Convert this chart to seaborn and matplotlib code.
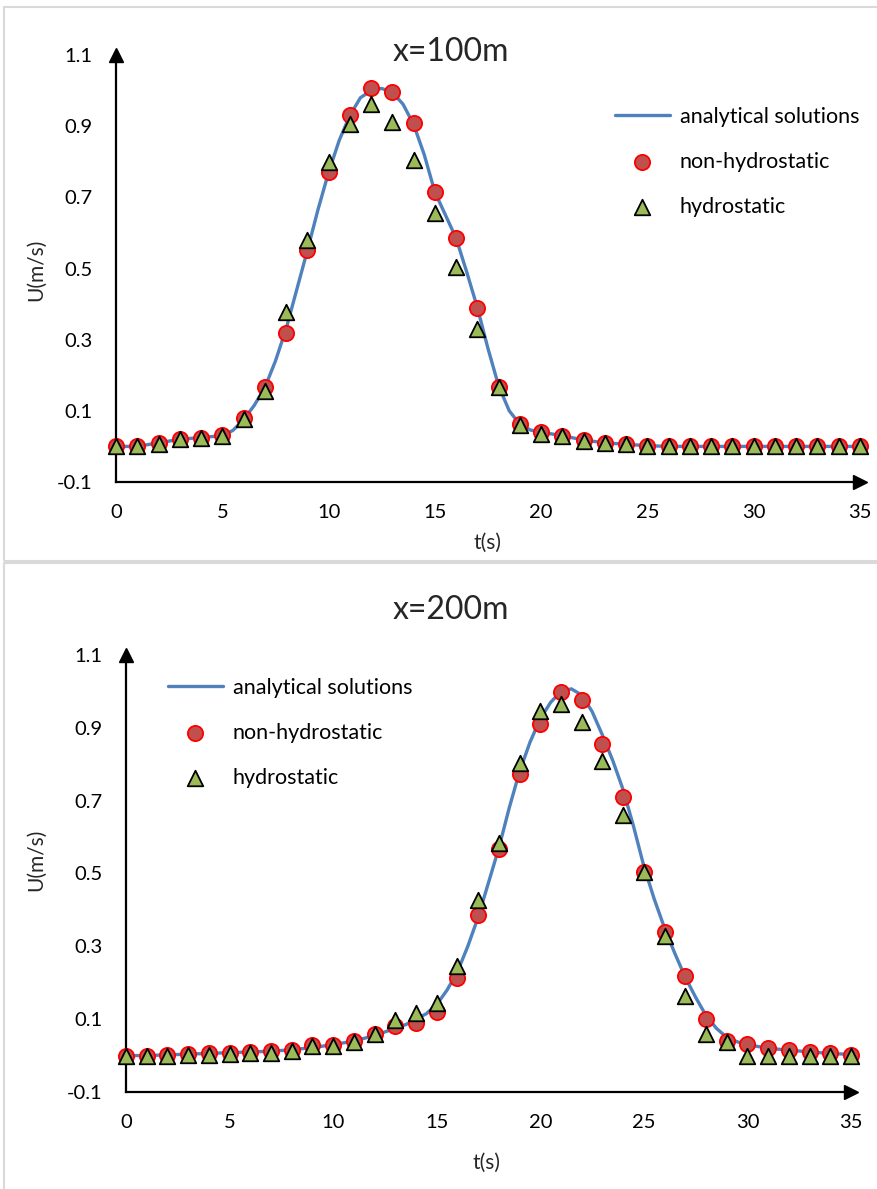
import numpy as np
import pandas as pd
import matplotlib
matplotlib.use("Agg")
import matplotlib.pyplot as plt
from matplotlib.patches import Rectangle
import seaborn as sns

# ---- data ----
t_points = list(range(0, 36))

# x = 100 m
nonhydro_100 = [0.0, 0.0, 0.01, 0.021, 0.025, 0.032, 0.08, 0.168, 0.32, 0.553,
                0.77, 0.93, 1.006, 0.995, 0.908, 0.714, 0.587, 0.39, 0.168, 0.062,
                0.04, 0.03, 0.017, 0.01, 0.007, 0.0, 0.0, 0.0, 0.0, 0.0,
                0.0, 0.0, 0.0, 0.0, 0.0, 0.0]
hydro_100 = [0.0, 0.0, 0.008, 0.02, 0.025, 0.03, 0.078, 0.155, 0.377, 0.58,
             0.8, 0.906, 0.963, 0.911, 0.806, 0.656, 0.503, 0.33, 0.167, 0.06,
             0.036, 0.03, 0.016, 0.01, 0.007, 0.0, 0.0, 0.0, 0.0, 0.0,
             0.0, 0.0, 0.0, 0.0, 0.0, 0.0]
t_analytic_100 = [0, 1, 2, 3, 4, 5, 5.5, 6, 6.5, 7, 7.5, 8, 8.5, 9, 9.5, 10, 10.5,
                  11, 11.5, 12, 12.5, 13, 13.5, 14, 14.5, 15, 15.5, 16, 16.5, 17,
                  17.5, 18, 18.5, 19, 19.5, 20, 21, 22, 23, 24, 25, 26, 30, 35]
u_analytic_100 = [0.0, 0.0, 0.01, 0.02, 0.025, 0.03, 0.045, 0.075, 0.115, 0.165,
                  0.24, 0.33, 0.44, 0.55, 0.665, 0.77, 0.86, 0.93, 0.98, 1.0,
                  1.006, 0.995, 0.962, 0.905, 0.82, 0.715, 0.65, 0.585, 0.49, 0.39,
                  0.275, 0.17, 0.1, 0.062, 0.046, 0.04, 0.03, 0.018, 0.01, 0.006,
                  0.002, 0.0, 0.0, 0.0]

# x = 200 m
nonhydro_200 = [0.0, 0.0, 0.002, 0.004, 0.006, 0.008, 0.01, 0.012, 0.015, 0.028,
                0.028, 0.04, 0.06, 0.08, 0.09, 0.12, 0.213, 0.386, 0.568, 0.774,
                0.911, 0.999, 0.977, 0.856, 0.711, 0.505, 0.34, 0.219, 0.1, 0.04,
                0.032, 0.021, 0.015, 0.01, 0.007, 0.002]
hydro_200 = [0.0, 0.0, 0.0, 0.001, 0.002, 0.004, 0.007, 0.008, 0.013, 0.026,
             0.026, 0.037, 0.059, 0.097, 0.117, 0.145, 0.246, 0.428, 0.584, 0.804,
             0.947, 0.966, 0.916, 0.81, 0.661, 0.505, 0.329, 0.164, 0.06, 0.038,
             0.0, 0.0, 0.0, 0.0, 0.0, 0.0]
t_analytic_200 = [0, 1, 2, 3, 4, 5, 6, 7, 8, 9, 10, 11, 12, 13, 13.5, 14, 14.5, 15,
                  15.5, 16, 16.5, 17, 17.5, 18, 18.5, 19, 19.5, 20, 20.5, 21, 21.5,
                  22, 22.5, 23, 23.5, 24, 24.5, 25, 25.5, 26, 26.5, 27, 27.5, 28,
                  28.5, 29, 29.5, 30, 31, 32, 33, 34, 35]
u_analytic_200 = [0.0, 0.0, 0.002, 0.004, 0.006, 0.008, 0.01, 0.012, 0.016, 0.022,
                  0.03, 0.04, 0.055, 0.075, 0.085, 0.1, 0.115, 0.14, 0.18, 0.23,
                  0.3, 0.38, 0.475, 0.57, 0.68, 0.78, 0.86, 0.925, 0.97, 1.0,
                  1.007, 0.99, 0.945, 0.88, 0.81, 0.73, 0.63, 0.52, 0.43, 0.35,
                  0.28, 0.215, 0.16, 0.11, 0.075, 0.05, 0.038, 0.03, 0.02, 0.015,
                  0.01, 0.006, 0.003]

y_ticks = [-0.1, 0.1, 0.3, 0.5, 0.7, 0.9, 1.1]
x_ticks = [0, 5, 10, 15, 20, 25, 30, 35]

LINE_C = "#4f81bd"
RED_FILL = "#c0504d"
RED_EDGE = "#ff0000"
GREEN_FILL = "#9bbb59"

sns.set_style("white")
plt.rcParams["font.family"] = ["Lato", "DejaVu Sans"]

W, H = 878, 1189
fig = plt.figure(figsize=(W / 100, H / 100), dpi=100)

# gray panel borders
fig.patches.append(Rectangle((4 / W, 1 - 561 / H), (W + 10) / W, 554 / H,
                             transform=fig.transFigure, fill=False,
                             edgecolor="#d9d9d9", linewidth=1.5))
fig.patches.append(Rectangle((4 / W, -0.05), (W + 10) / W, 0.05 + 626 / H,
                             transform=fig.transFigure, fill=False,
                             edgecolor="#d9d9d9", linewidth=1.5))


def make_panel(rect, t_an, u_an, nonhydro, hydro, title, title_xy, ylab_xy, xlab_xy,
               leg_anchor):
    ax = fig.add_axes(rect)
    df = pd.DataFrame({"t": t_points, "non": nonhydro, "hyd": hydro})
    df_an = pd.DataFrame({"t": t_an, "u": u_an})

    sns.lineplot(data=df_an, x="t", y="u", ax=ax, color=LINE_C, linewidth=2.4,
                 label="analytical solutions", zorder=2)
    sns.scatterplot(data=df, x="t", y="non", ax=ax, marker="o", s=120,
                    color=RED_FILL, edgecolor=RED_EDGE, linewidth=1.3,
                    label="non-hydrostatic", zorder=3, clip_on=False)
    sns.scatterplot(data=df, x="t", y="hyd", ax=ax, marker="^", s=125,
                    color=GREEN_FILL, edgecolor="black", linewidth=1.3,
                    label="hydrostatic", zorder=4, clip_on=False)

    ax.set_xlim(0, 35)
    ax.set_ylim(-0.1, 1.1)
    ax.set_xticks(x_ticks)
    ax.set_yticks(y_ticks)
    ax.set_yticklabels([f"{v:g}" for v in y_ticks])
    ax.tick_params(axis="both", length=0, labelsize=14.5, colors="black")
    ax.tick_params(axis="y", pad=17)
    ax.tick_params(axis="x", pad=16)
    ax.set_xlabel("")
    ax.set_ylabel("")
    for s in ["top", "right"]:
        ax.spines[s].set_visible(False)
    for s in ["left", "bottom"]:
        ax.spines[s].set_color("black")
        ax.spines[s].set_linewidth(1.6)
    ax.patch.set_alpha(0)
    # arrow heads at the axis ends
    ax.plot(1, 0, ">", color="black", markersize=10, transform=ax.transAxes,
            clip_on=False)
    ax.plot(0, 1, "^", color="black", markersize=10, transform=ax.transAxes,
            clip_on=False)

    leg = ax.legend(loc="upper left", bbox_to_anchor=leg_anchor,
                    bbox_transform=fig.transFigure, frameon=False, fontsize=15.5,
                    handlelength=2.55, handletextpad=0.45, labelspacing=1.15,
                    borderaxespad=0, borderpad=0)
    for txt in leg.get_texts():
        txt.set_color("black")

    fig.text(title_xy[0] / W, 1 - title_xy[1] / H, title, fontsize=23,
             ha="center", va="center")
    fig.text(ylab_xy[0] / W, 1 - ylab_xy[1] / H, "U(m/s)", fontsize=15,
             rotation=90, ha="center", va="center")
    fig.text(xlab_xy[0] / W, 1 - xlab_xy[1] / H, "t(s)", fontsize=15,
             ha="center", va="center")
    return ax


make_panel([116 / W, 1 - 482 / H, 744 / W, 427 / H],
           t_analytic_100, u_analytic_100, nonhydro_100, hydro_100,
           "x=100m", (451, 52), (36, 270), (488, 543), (615 / W, 1 - 107 / H))
make_panel([126 / W, 1 - 1092 / H, 725 / W, 437 / H],
           t_analytic_200, u_analytic_200, nonhydro_200, hydro_200,
           "x=200m", (451, 610), (36, 860), (487, 1163), (168 / W, 1 - 678 / H))

fig.savefig("out.png", dpi=100, facecolor="white")
